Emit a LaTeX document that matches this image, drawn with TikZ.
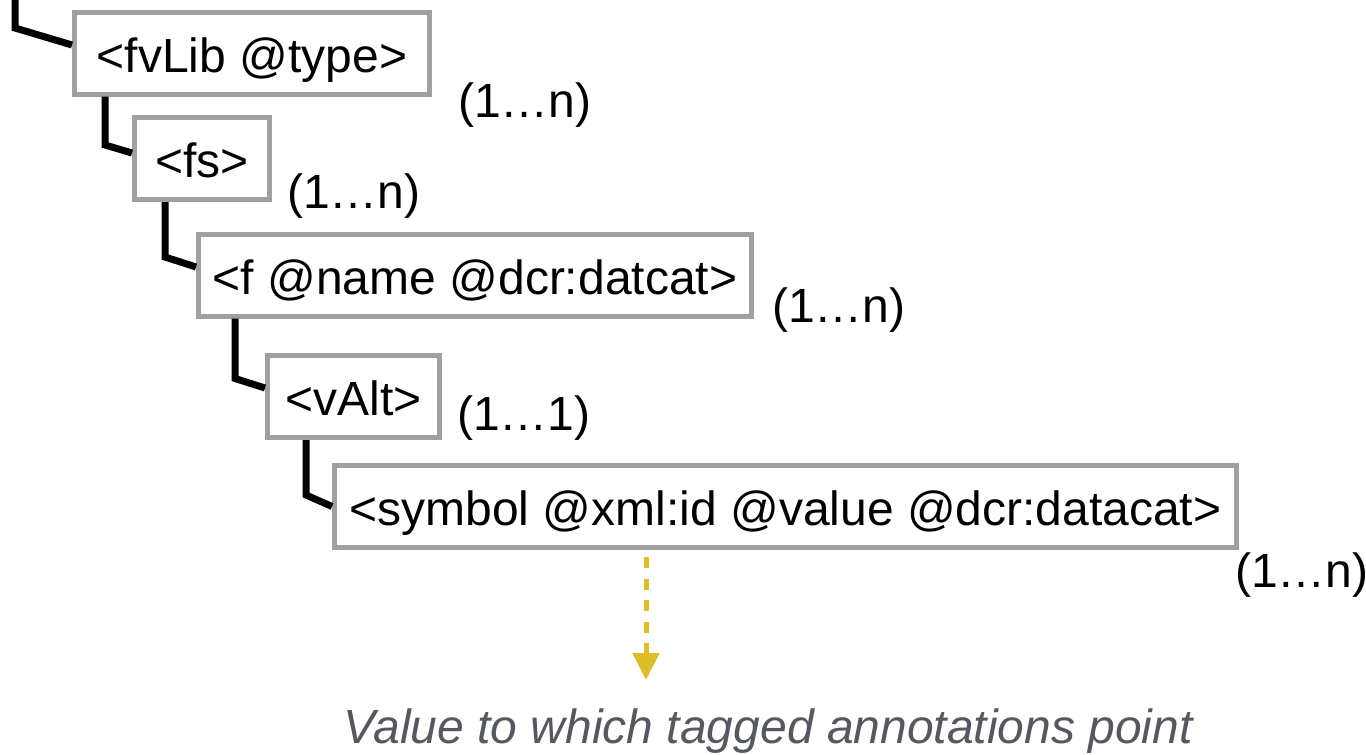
\documentclass[tikz,border=0pt]{standalone}
\usepackage{fontspec}
\setmainfont{Liberation Sans}
\usetikzlibrary{arrows.meta,calc}
\definecolor{boxgray}{HTML}{A0A0A0}
\definecolor{gold}{HTML}{DDBD2A}
\definecolor{capgray}{HTML}{55595F}
\begin{document}
\begin{tikzpicture}[x=1pt,y=-1pt,
  tag/.style={draw=boxgray, line width=5pt, fill=white, minimum height=82pt,
    inner sep=0pt, text height=38pt, text depth=0pt,
    font=\fontsize{48}{58}\selectfont},
  mult/.style={anchor=base west, inner sep=0pt, font=\fontsize{48}{58}\selectfont},
  conn/.style={line width=7pt, draw=black},
  pointer/.style={draw=gold, line width=5pt, dash pattern=on 11pt off 10.5pt,
    -{Triangle[width=26pt,length=27pt]}},
  caption/.style={anchor=base, inner sep=0pt, text=capgray,
    font=\fontsize{48}{58}\selectfont\itshape}]
\useasboundingbox (0,0) rectangle (1366,755);

% boxes
\node[tag, minimum width=355pt] (B1) at (252,53) {<fvLib @type>};
\node[tag, minimum width=135pt] (B2) at (202,158.5) {<fs>};
\node[tag, minimum width=553pt] (B3) at (475,275) {<f @name @dcr:datcat>};
\node[tag, minimum width=172pt] (B4) at (353.5,396.5) {<vAlt>};
\node[tag, minimum width=902pt] (B5) at (785.5,506.5) {<symbol @xml:id @value @dcr:datacat>};

% multiplicities
\node[mult] (M1) at (458,117) {(1…n)};
\node[mult] (M2) at (287,208) {(1…n)};
\node[mult] (M3) at (772,322) {(1…n)};
\node[mult] (M4) at (457,430) {(1…1)};
\node[mult] (M5) at (1235,587) {(1…n)};

% connectors
\coordinate (top) at (15,-4);
\draw[conn] (top) -- ++(0,32) -- ($(B1.west)+(0,-8)$);
\draw[conn] ($(B1.south west)+(33,0)$) -- ++(0,48.5) -- ($(B2.west)+(0,-5.5)$);
\draw[conn] ($(B2.south west)+(33,0)$) -- ++(0,55) -- ($(B3.west)+(0,-8)$);
\draw[conn] ($(B3.south west)+(39,0)$) -- ++(0,60) -- ($(B4.west)+(0,-8.5)$);
\draw[conn] ($(B4.south west)+(41,0)$) -- ++(0,55) -- (B5.west);

% pointer and caption
\node[caption] (cap) at (768,743) {Value to which tagged annotations point};
\coordinate (tip) at (646,680);
\draw[pointer] ($(B5.south)+(-139.5,7)$) -- (tip);
\end{tikzpicture}
\end{document}
